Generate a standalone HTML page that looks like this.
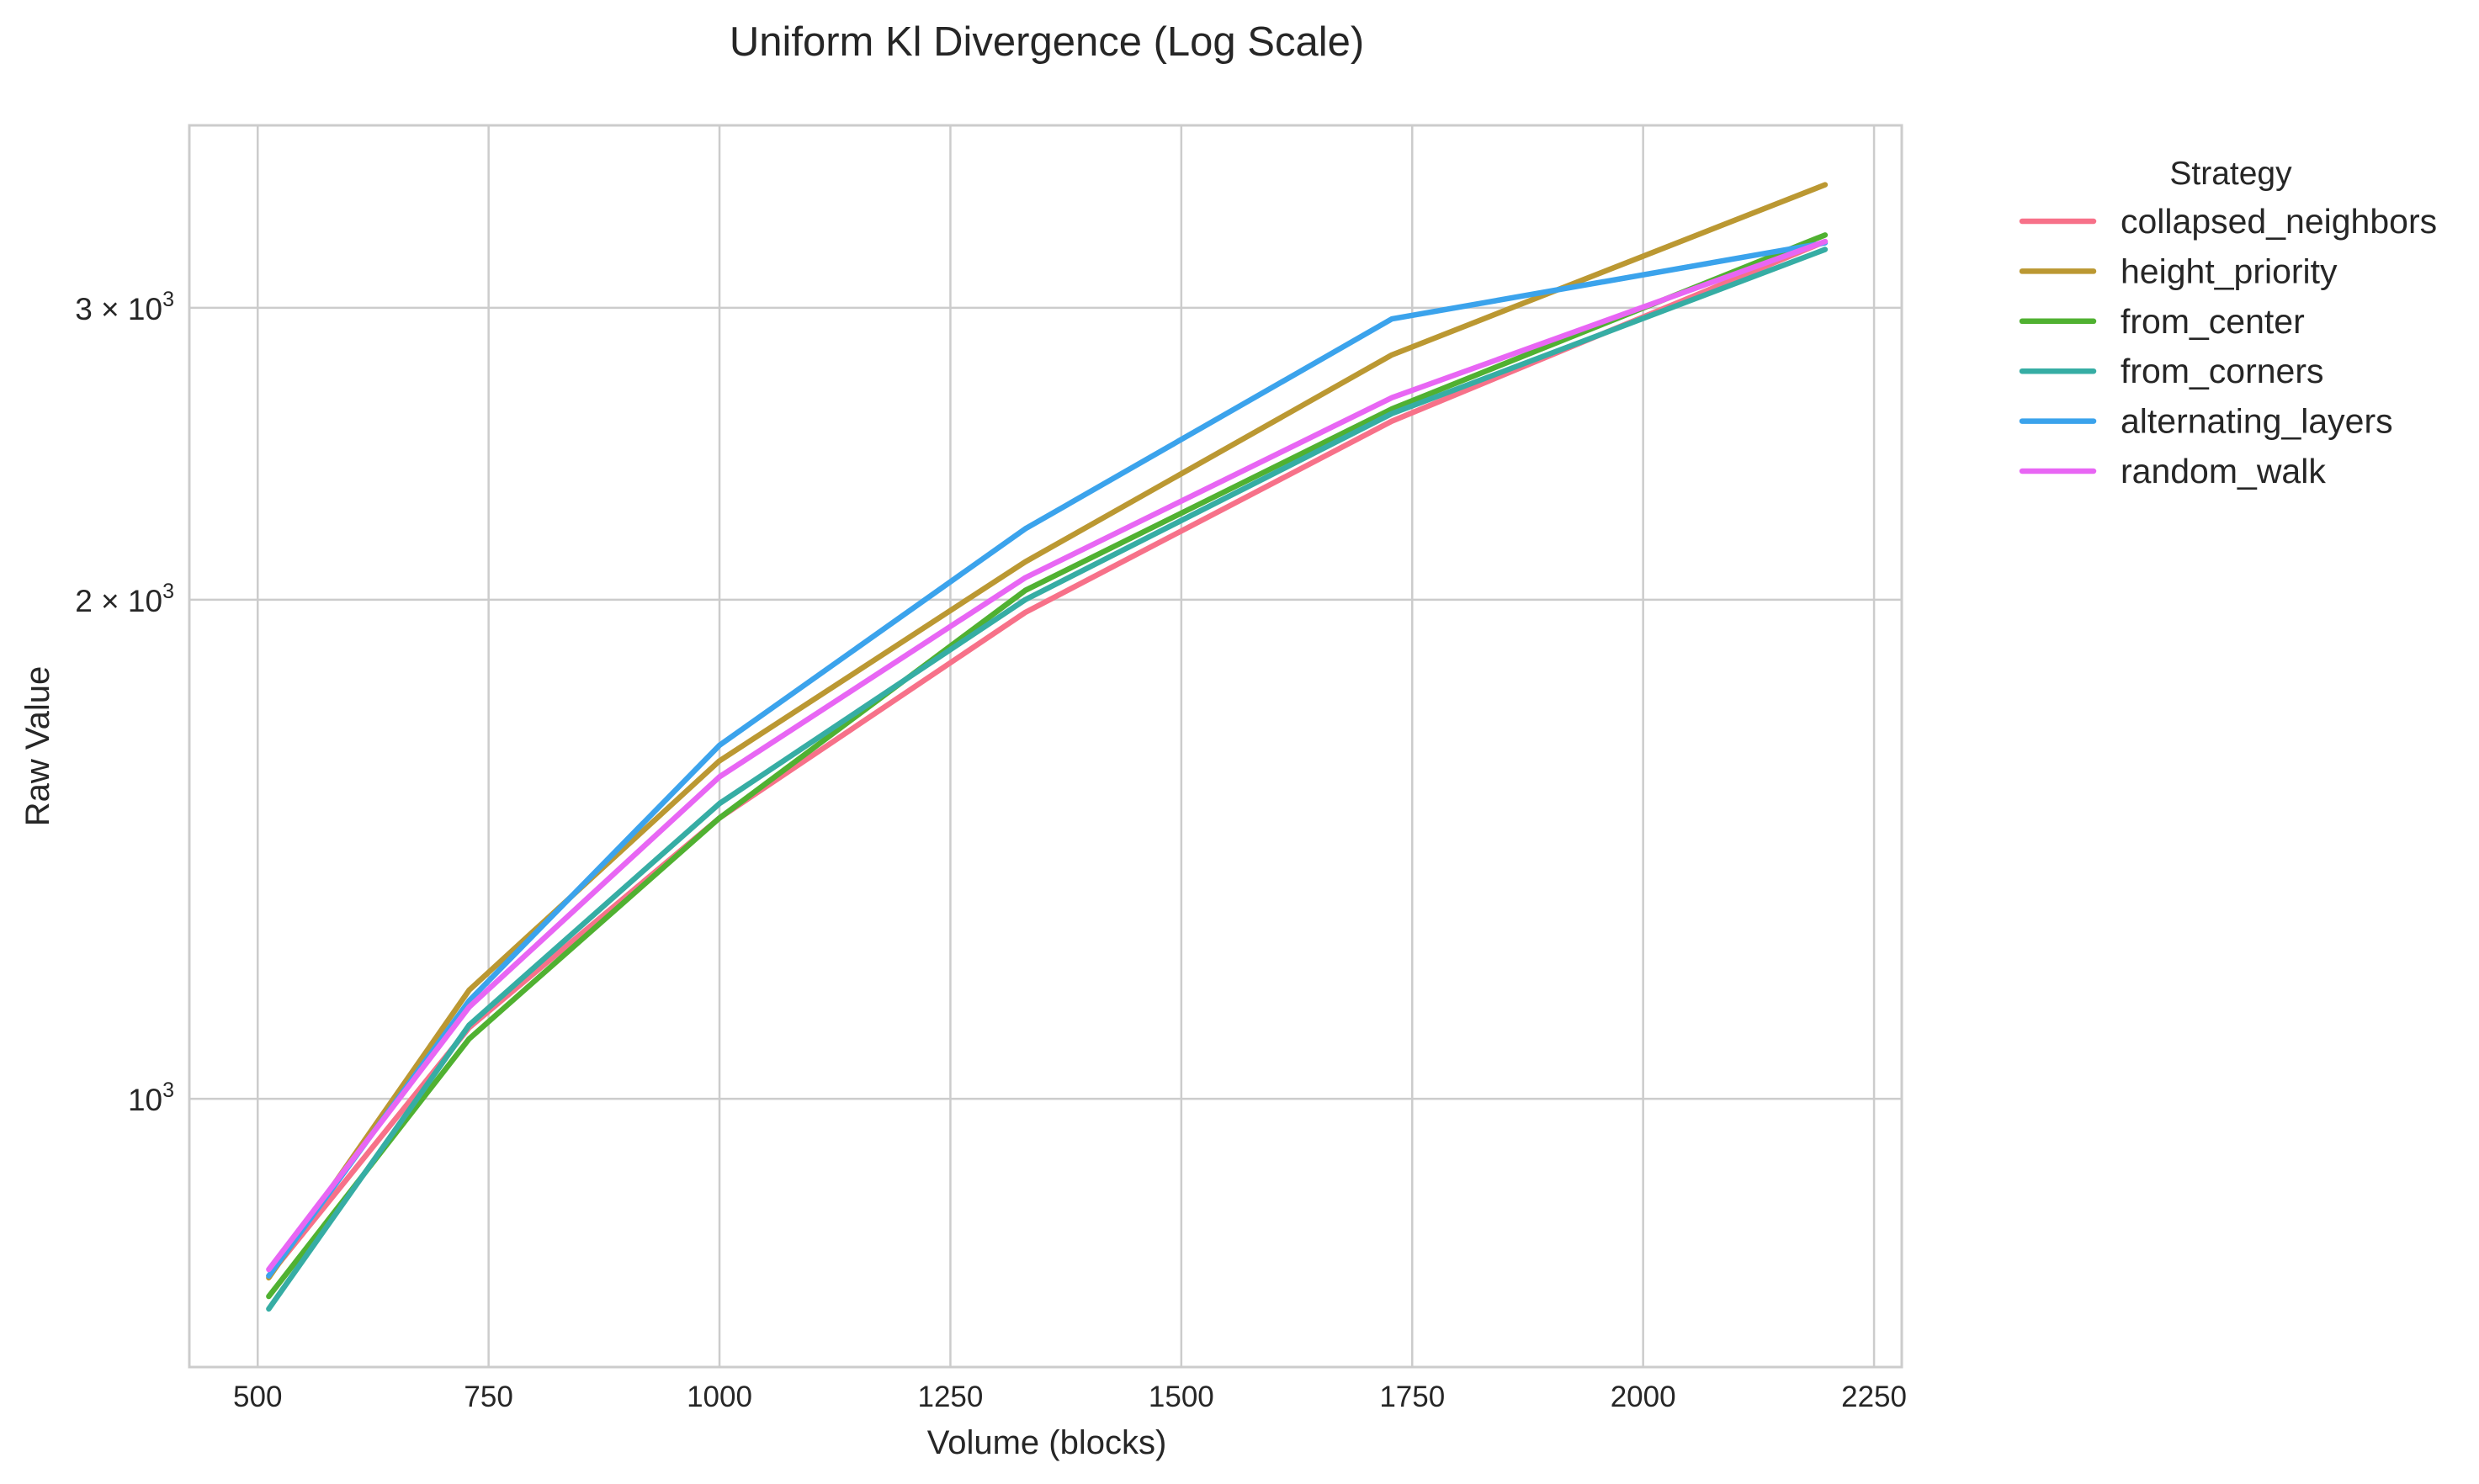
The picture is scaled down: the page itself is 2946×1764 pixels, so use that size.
<!DOCTYPE html>
<html><head><meta charset="utf-8"><style>body{margin:0;background:#fff}svg{display:block}text{font-family:"Liberation Sans",sans-serif;fill:#262626}</style></head>
<body>
<svg id="chart" width="2946" height="1764" viewBox="0 0 2946 1764" xmlns="http://www.w3.org/2000/svg">
<rect width="2946" height="1764" fill="#fff"/>
<text x="1244" y="66" font-size="49" text-anchor="middle">Uniform Kl Divergence (Log Scale)</text>
<g id="grid"></g><g id="series"></g><g id="ticks"></g>
<rect x="225" y="149" width="2035" height="1476" fill="none" stroke="#cccccc" stroke-width="3"/>
<text x="1244" y="1728" font-size="40" text-anchor="middle">Volume (blocks)</text>
<text x="0" y="0" font-size="40" text-anchor="middle" transform="translate(58,887) rotate(-90)">Raw Value</text>
<g id="legend"></g>
</svg>
<script>
const xValues=[512,729,1000,1331,1728,2197];
const seriesNames=["collapsed_neighbors","height_priority","from_center","from_corners","alternating_layers","random_walk"];
const collapsedNeighbors=[782,1104,1477,1965,2563,3289];
const heightPriority=[780,1163,1599,2108,2810,3559];
const fromCenter=[760,1087,1477,2026,2607,3319];
const fromCorners=[747,1108,1507,2000,2590,3253];
const alternatingLayers=[782,1146,1634,2207,2954,3283];
const randomWalk=[789,1136,1564,2062,2648,3289];
const xTicks=[500,750,1000,1250,1500,1750,2000,2250];
const yTicks=[1000,2000,3000];
const yTickMant=["","2","3"];
const colors=["#f77189","#bb9832","#50b131","#36ada4","#3ba3ec","#e866f4"];
const allSeries=[collapsedNeighbors,heightPriority,fromCenter,fromCorners,alternatingLayers,randomWalk];
const NS="http://www.w3.org/2000/svg";
const L=225,R=2260,T=149,B=1625;
const xMin=426,xMax=2280,yMin=689,yMax=3865;
function xs(v){return L+(v-xMin)/(xMax-xMin)*(R-L);}
function ys(v){return B-(Math.log10(v)-Math.log10(yMin))/(Math.log10(yMax)-Math.log10(yMin))*(B-T);}
function mk(t,a,p){const e=document.createElementNS(NS,t);for(const k in a)e.setAttribute(k,a[k]);p.appendChild(e);return e;}
const grid=document.getElementById('grid'),ticks=document.getElementById('ticks'),ser=document.getElementById('series'),leg=document.getElementById('legend');
xTicks.forEach(v=>{const x=xs(v);
const g=mk('line',{x1:x,x2:x,y1:T,y2:B,stroke:'#cccccc','stroke-width':2.5},grid);


const t=mk('text',{x:x,y:1672,'font-size':35,'text-anchor':'middle'},ticks);t.textContent=v;

});
yTicks.forEach((v,i)=>{const y=ys(v);
const g=mk('line',{x1:L,x2:R,y1:y,y2:y,stroke:'#cccccc','stroke-width':2.5},grid);


const t=mk('text',{x:207,y:y+14,'font-size':37,'text-anchor':'end'},ticks);


t.innerHTML=(yTickMant[i]?yTickMant[i]+' \u00d7 ':'')+'10<tspan dy="-16" font-size="25">3</tspan>';});
allSeries.forEach((vals,i)=>{const pts=vals.map((v,j)=>xs(xValues[j])+','+ys(v)).join(' ');
const p=mk('polyline',{points:pts,fill:'none',stroke:colors[i],'stroke-width':6.5,'stroke-linejoin':'round','stroke-linecap':'round'},ser);

});
const lt=mk('text',{x:2651,y:219,'font-size':39,'text-anchor':'middle'},leg);lt.textContent='Strategy';


seriesNames.forEach((n,i)=>{const y=263+i*59.4;
const g=mk('g',{},leg);


mk('line',{x1:2403,x2:2488,y1:y,y2:y,stroke:colors[i],'stroke-width':6.5,'stroke-linecap':'round'},g);
const t=mk('text',{x:2520,y:y+14,'font-size':41},g);t.textContent=n;});
</script>
</body></html>
